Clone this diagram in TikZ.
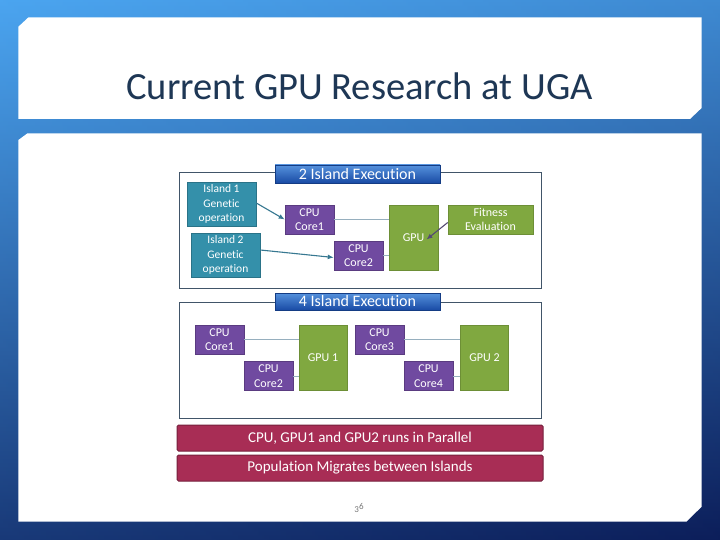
\documentclass[tikz,border=0pt]{standalone}
\usepackage{fontspec}
\setmainfont{Carlito}[Ligatures=NoCommon]
\usetikzlibrary{arrows.meta}
\definecolor{bgtop}{RGB}{75,165,240}
\definecolor{bgmid}{RGB}{32,95,190}
\definecolor{bgbot}{RGB}{12,30,90}
\definecolor{titlec}{RGB}{30,55,85}
\definecolor{framec}{RGB}{65,85,105}
\definecolor{bantop}{RGB}{85,145,220}
\definecolor{banbot}{RGB}{25,75,165}
\definecolor{tealc}{RGB}{52,144,170}
\definecolor{purplec}{RGB}{112,74,160}
\definecolor{greenc}{RGB}{128,168,64}
\definecolor{crimc}{RGB}{168,45,85}
\definecolor{linec}{RGB}{150,175,190}
\definecolor{arrc}{RGB}{55,120,145}
\definecolor{arrf}{RGB}{85,75,115}
\definecolor{pagec}{RGB}{120,120,120}
\tikzset{
  frame/.style={draw=framec, line width=1pt, fill=white, inner sep=0pt},
  banner/.style={draw=banbot!80!black, line width=0.4pt, top color=bantop, bottom color=banbot, text=white, inner sep=0pt, font=\fontsize{16}{18}\selectfont},
  box/.style={line width=0.6pt, text=white, align=center, inner sep=0pt, font=\fontsize{12}{14.4}\selectfont},
  island/.style={box, fill=tealc, draw=tealc!80!black, font=\fontsize{11.5}{14.3}\selectfont},
  cpu/.style={box, fill=purplec, draw=purplec!80!black, minimum width=49pt, minimum height=29pt},
  gpu/.style={box, fill=greenc, draw=greenc!85!black},
  bar/.style={fill=crimc, draw=crimc!70!black, line width=1pt, rounded corners=1.5pt, text=white, inner sep=0pt, minimum width=366pt, minimum height=26pt, font=\fontsize{15}{18}\selectfont},
  conn/.style={draw=linec, line width=0.8pt},
  arr/.style={draw=arrc, line width=1.1pt, -{Latex[length=6pt,width=5pt]}},
}
\begin{document}
\begin{tikzpicture}[x=1pt,y=-1pt]
\useasboundingbox (0,0) rectangle (720,540);
\shade[top color=bgtop, middle color=bgmid, bottom color=bgbot] (0,0) rectangle (720,540);
\shade[left color=bgtop, right color=bgbot, opacity=0.2] (0,0) rectangle (720,540);
% panels
\fill[white] (18.4,26.7) -- (28.5,17.3) -- (701.6,17.3) -- (701.6,108) -- (690,119) -- (18.4,119) -- cycle;
\fill[white] (18.4,140) -- (27.5,133.3) -- (701.6,133.3) -- (701.6,506.7) -- (686.4,521.7) -- (18.4,521.7) -- cycle;
% title
\node[anchor=base, text=titlec, inner sep=0pt, font=\fontsize{38.5}{40}\selectfont] (title) at (359.5,100) {Current GPU Research at UGA};

% frame 1
\node[frame, minimum width=362pt, minimum height=115pt] (f1) at (360,230.5) {};
\node[banner, minimum width=165pt, minimum height=18pt] (b1) at (357.5,174) {2 Island Execution};
\node[island, minimum width=69pt, minimum height=44pt] (i1) at (221.5,204) {Island 1\\Genetic\\operation};
\node[island, minimum width=69pt, minimum height=44pt] (i2) at (225.5,255) {Island 2\\Genetic\\operation};
\node[cpu] (c1) at (309.5,219.5) {CPU\\Core1};
\node[cpu] (c2) at (358.5,255.5) {CPU\\Core2};
\node[gpu, minimum width=49pt, minimum height=65pt] (gpu) at (413.5,237.5) {GPU};
\node[gpu, minimum width=85pt, minimum height=29pt] (fit) at (490.5,219.5) {Fitness\\Evaluation};
\draw[conn] (c1.east) -- (gpu.west |- c1.east);
\draw[conn] (c2.east) -- (gpu.west |- c2.east);
\draw[arr] ([yshift=1pt]i1.east) -- (c1.west);
\draw[arr] ([yshift=5pt]i2.east) -- ([yshift=-2pt]c2.west);
\draw[arr, draw=arrf] ([yshift=-3pt]fit.west) -- ([xshift=13pt,yshift=-2pt]gpu.center);

% frame 2
\node[frame, minimum width=362pt, minimum height=116pt] (f2) at (360,360) {};
\node[banner, minimum width=165pt, minimum height=17pt] (b2) at (357.5,301.5) {4 Island Execution};
\node[cpu] (d1) at (219.5,339.5) {CPU\\Core1};
\node[cpu] (d2) at (268.5,376) {CPU\\Core2};
\node[gpu, minimum width=48pt, minimum height=65pt] (g1) at (323,357.5) {GPU 1};
\node[cpu] (d3) at (379.5,339.5) {CPU\\Core3};
\node[cpu] (d4) at (428.5,376) {CPU\\Core4};
\node[gpu, minimum width=48pt, minimum height=65pt] (g2) at (484.5,357.5) {GPU 2};
\draw[conn] (d1.east) -- (g1.west |- d1.east);
\draw[conn] (d2.east) -- (g1.west |- d2.east);
\draw[conn] (d3.east) -- (g2.west |- d3.east);
\draw[conn] (d4.east) -- (g2.west |- d4.east);

% bars
\node[bar] (p1) at (360,438) {CPU, GPU1 and GPU2 runs in Parallel};
\node[bar] (p2) at (360,468) {Population Migrates between Islands};

% page number
\node[anchor=base, text=pagec, inner sep=0pt, font=\fontsize{9}{10}\selectfont] (pg) at (359,512) {3\raisebox{2.5pt}{6}};
\end{tikzpicture}
\end{document}
